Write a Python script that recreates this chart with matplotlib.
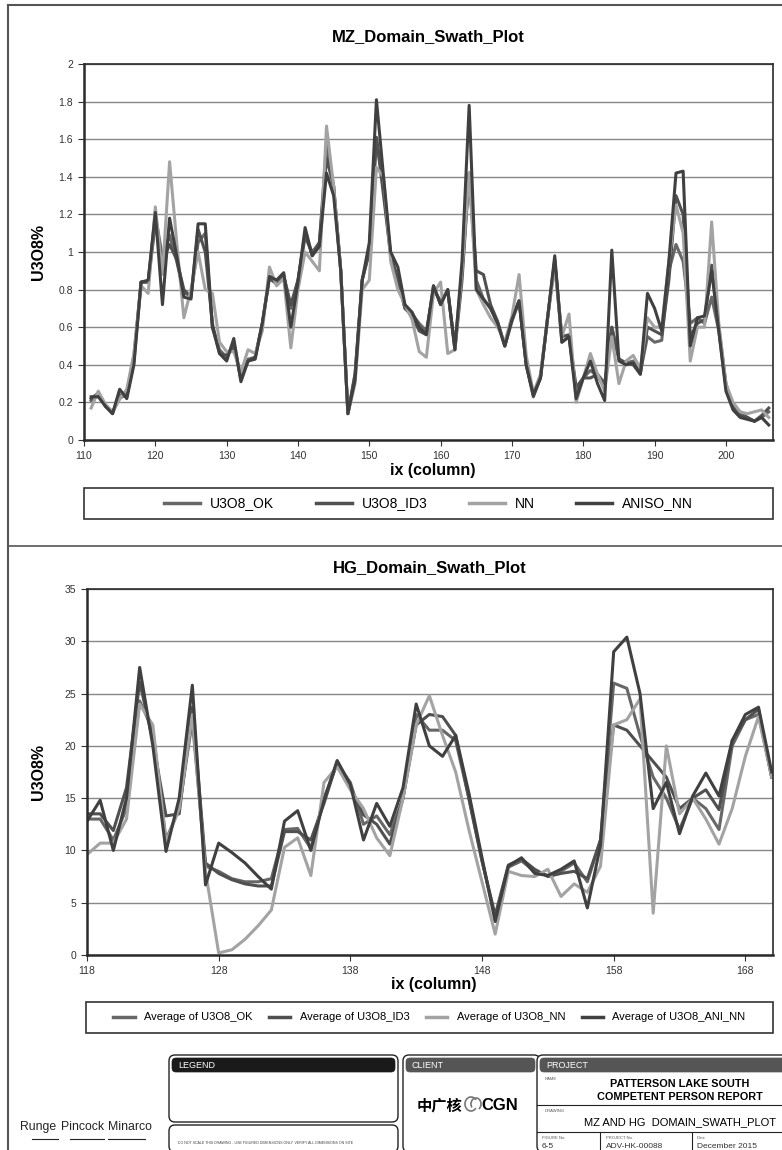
import numpy as np
import matplotlib
matplotlib.use('Agg')
import matplotlib.pyplot as plt
from matplotlib.patches import Rectangle, FancyBboxPatch, Arc

# MZ domain swath data

mz_ix = list(range(111, 207))

mz_ok = [0.21, 0.24, 0.18, 0.15, 0.22, 0.25, 0.45, 0.84, 0.84, 1.20,
         0.97, 1.09, 0.95, 0.78, 0.77, 1.05, 1.10, 0.60, 0.48, 0.44,
         0.52, 0.32, 0.43, 0.44, 0.62, 0.87, 0.85, 0.88, 0.70, 0.85,
         1.08, 1.00, 1.05, 1.57, 1.35, 0.90, 0.14, 0.35, 0.85, 1.00,
         1.60, 1.35, 0.98, 0.85, 0.70, 0.67, 0.62, 0.58, 0.80, 0.74,
         0.79, 0.50, 0.90, 1.42, 0.85, 0.75, 0.70, 0.62, 0.50, 0.63,
         0.74, 0.40, 0.24, 0.33, 0.65, 0.95, 0.52, 0.55, 0.26, 0.33,
         0.37, 0.34, 0.28, 0.60, 0.43, 0.41, 0.42, 0.36, 0.55, 0.52,
         0.53, 0.90, 1.04, 0.95, 0.62, 0.65, 0.62, 0.76, 0.58, 0.28,
         0.18, 0.15, 0.12, 0.10, 0.12, 0.15]

mz_id3 = [0.22, 0.25, 0.18, 0.14, 0.24, 0.23, 0.42, 0.84, 0.84, 1.15,
          0.95, 1.04, 0.96, 0.80, 0.76, 1.12, 1.00, 0.62, 0.46, 0.45,
          0.50, 0.33, 0.42, 0.44, 0.62, 0.86, 0.83, 0.87, 0.72, 0.85,
          1.10, 0.98, 1.05, 1.50, 1.35, 0.90, 0.14, 0.35, 0.85, 1.00,
          1.61, 1.30, 0.98, 0.86, 0.70, 0.66, 0.58, 0.56, 0.82, 0.72,
          0.80, 0.48, 0.85, 1.42, 0.90, 0.88, 0.72, 0.63, 0.50, 0.65,
          0.74, 0.40, 0.23, 0.33, 0.65, 0.96, 0.55, 0.56, 0.28, 0.33,
          0.33, 0.35, 0.30, 0.60, 0.43, 0.41, 0.40, 0.35, 0.60, 0.58,
          0.56, 0.85, 1.30, 1.20, 0.55, 0.62, 0.64, 0.93, 0.60, 0.30,
          0.17, 0.13, 0.12, 0.10, 0.13, 0.17]

mz_nn = [0.17, 0.26, 0.19, 0.15, 0.22, 0.27, 0.46, 0.82, 0.78, 1.24,
         0.88, 1.48, 1.05, 0.65, 0.80, 1.00, 0.80, 0.78, 0.52, 0.47,
         0.47, 0.36, 0.48, 0.46, 0.58, 0.92, 0.82, 0.86, 0.49, 0.80,
         1.00, 0.95, 0.90, 1.67, 1.35, 0.90, 0.14, 0.30, 0.80, 0.85,
         1.45, 1.40, 0.95, 0.80, 0.72, 0.64, 0.47, 0.44, 0.78, 0.84,
         0.46, 0.48, 0.90, 1.42, 0.80, 0.72, 0.65, 0.60, 0.52, 0.66,
         0.88, 0.45, 0.25, 0.35, 0.65, 0.92, 0.55, 0.67, 0.20, 0.33,
         0.46, 0.35, 0.26, 0.55, 0.30, 0.42, 0.45, 0.38, 0.65, 0.60,
         0.60, 0.95, 1.25, 1.10, 0.42, 0.60, 0.60, 1.16, 0.62, 0.30,
         0.20, 0.15, 0.14, 0.15, 0.16, 0.12]

mz_aniso = [0.23, 0.23, 0.18, 0.14, 0.27, 0.22, 0.40, 0.84, 0.85, 1.21,
            0.72, 1.18, 0.98, 0.76, 0.75, 1.15, 1.15, 0.60, 0.46, 0.42,
            0.54, 0.31, 0.42, 0.43, 0.62, 0.87, 0.85, 0.89, 0.60, 0.84,
            1.13, 0.98, 1.03, 1.42, 1.30, 0.90, 0.14, 0.32, 0.85, 1.05,
            1.81, 1.40, 1.00, 0.92, 0.72, 0.68, 0.60, 0.56, 0.82, 0.72,
            0.80, 0.48, 0.95, 1.78, 0.80, 0.75, 0.70, 0.62, 0.50, 0.64,
            0.74, 0.40, 0.24, 0.33, 0.65, 0.98, 0.52, 0.55, 0.22, 0.33,
            0.42, 0.30, 0.21, 1.01, 0.42, 0.40, 0.41, 0.35, 0.78, 0.70,
            0.58, 0.95, 1.42, 1.43, 0.50, 0.65, 0.66, 0.90, 0.58, 0.26,
            0.16, 0.12, 0.11, 0.10, 0.12, 0.08]

# HG domain swath data

hg_ix = list(range(118, 171))

hg_ok = [13.0, 13.0, 11.0, 14.0, 24.3, 21.5, 11.0, 14.0, 22.4, 8.5,
         8.0, 7.3, 7.0, 7.0, 7.3, 12.0, 12.1, 10.2, 15.0, 18.3,
         16.5, 12.5, 13.3, 11.5, 15.0, 23.0, 21.5, 21.5, 20.5, 15.0,
         9.0, 3.6, 8.4, 9.0, 8.0, 7.6, 8.0, 8.8, 7.0, 11.0,
         26.0, 25.5, 21.0, 17.0, 15.0, 12.0, 15.0, 14.0, 12.0, 20.0,
         22.5, 23.0, 17.0]

hg_id3 = [13.5, 13.5, 11.9, 16.0, 26.1, 20.5, 13.3, 13.5, 23.7, 8.8,
          7.8, 7.2, 6.8, 6.6, 6.6, 11.8, 11.8, 11.0, 14.5, 18.5,
          16.0, 13.4, 12.5, 10.6, 15.0, 22.0, 23.0, 22.8, 21.0, 15.0,
          9.0, 3.8, 8.6, 9.2, 8.2, 7.5, 7.8, 8.0, 7.3, 11.0,
          22.0, 21.5, 20.0, 18.5, 17.0, 14.0, 15.0, 15.8, 13.9, 20.5,
          22.5, 23.5, 17.0]

hg_nn = [9.6, 10.7, 10.7, 13.0, 24.0, 22.0, 10.8, 14.0, 23.0, 8.0,
         0.2, 0.5, 1.5, 2.8, 4.3, 10.3, 11.2, 7.6, 16.5, 18.0,
         15.8, 14.0, 11.2, 9.5, 15.0, 22.0, 24.8, 21.0, 17.5, 12.0,
         7.0, 2.0, 8.0, 7.6, 7.5, 8.2, 5.6, 6.8, 6.0, 8.5,
         22.0, 22.5, 24.5, 4.0, 20.0, 13.5, 15.0, 13.0, 10.6, 14.0,
         19.0, 22.8, 17.0]

hg_aniso = [12.8, 14.8, 10.0, 15.0, 27.5, 20.0, 9.9, 15.0, 25.8, 6.7,
            10.7, 9.8, 8.8, 7.5, 6.3, 12.8, 13.8, 10.0, 14.8, 18.6,
            16.3, 11.0, 14.5, 12.3, 16.0, 24.0, 20.0, 19.0, 21.0, 15.5,
            9.3, 3.2, 8.5, 9.3, 7.8, 7.6, 8.2, 9.0, 4.5, 10.5,
            29.0, 30.4, 25.0, 14.0, 16.5, 11.6, 15.2, 17.4, 15.2, 20.5,
            23.0, 23.7, 17.5]

mz_labels = ['U3O8_OK', 'U3O8_ID3', 'NN', 'ANISO_NN']
hg_labels = ['Average of U3O8_OK', 'Average of U3O8_ID3',
             'Average of U3O8_NN', 'Average of U3O8_ANI_NN']
colors = ['#676767', '#505050', '#a3a3a3', '#404040']

W, H = 782, 1150
NARROW = ['Liberation Sans Narrow', 'Liberation Sans', 'DejaVu Sans']
PLAIN = ['Liberation Sans', 'DejaVu Sans']


def box(l, t, r, b):
    # pixel box -> figure fraction rect
    return [l / W, 1 - b / H, (r - l) / W, (b - t) / H]


fig = plt.figure(figsize=(W / 100, H / 100), dpi=100)

# background axes in pixel coordinates for frames and title block
bg = fig.add_axes([0, 0, 1, 1], zorder=0)
bg.set_xlim(0, W)
bg.set_ylim(H, 0)
bg.axis('off')

bg.plot([8, 8], [5, H], color='#555555', lw=1.5)
bg.plot([8, W], [5, 5], color='#555555', lw=1.5)
bg.plot([8, W], [546, 546], color='#555555', lw=1.2)


def swath(rect, x, series, labels, title, xlim, ylim, yticks, xticks,
          title_y, xlabel_y, leg_rect, leg_style):
    ax = fig.add_axes(box(*rect), zorder=2)
    for s, lab, c in zip(series, labels, colors):
        ax.plot(x, s, color=c, lw=2.2, label=lab, solid_joinstyle='round')
    ax.set_xlim(*xlim)
    ax.set_ylim(*ylim)
    ax.set_yticks(yticks)
    ax.set_xticks(xticks)
    ax.yaxis.set_major_formatter(matplotlib.ticker.FuncFormatter(lambda v, p: '{:g}'.format(round(v, 2))))
    ax.grid(axis='y', color='#888888', lw=1.0)
    ax.set_axisbelow(True)
    ax.tick_params(labelsize=7.5, colors='#333333', length=4, width=0.8, pad=4)
    for lab in ax.get_xticklabels() + ax.get_yticklabels():
        lab.set_family(PLAIN)
    for sp in ax.spines.values():
        sp.set_color('#2a2a2a')
        sp.set_linewidth(1.2)
    ax.spines['left'].set_linewidth(1.8)
    ax.spines['bottom'].set_linewidth(1.8)

    fig.text((rect[0] + rect[2]) / 2 / W, 1 - title_y / H, title, ha='center', va='center',
             fontsize=12, fontweight='bold', family=NARROW)
    fig.text((rect[0] + rect[2]) / 2 / W + 0.005, 1 - xlabel_y / H, 'ix (column)', ha='center',
             va='center', fontsize=11.5, fontweight='bold', family=NARROW)
    fig.text(38 / W, 1 - (rect[1] + rect[3]) / 2 / H, 'U3O8%', ha='center', va='center',
             rotation=90, fontsize=11.5, fontweight='bold', family=NARROW)

    l, t, r, b = leg_rect
    bg.add_patch(Rectangle((l, t), r - l, b - t, fill=False, ec='#333333', lw=1.2))
    size, hlen, tpad, cspace = leg_style
    leg = ax.legend(loc='center', bbox_to_anchor=((l + r) / 2 / W, 1 - (t + b) / 2 / H),
                    bbox_transform=fig.transFigure, ncol=4, frameon=False,
                    prop={'family': PLAIN, 'size': size}, handlelength=hlen,
                    columnspacing=cspace, handletextpad=tpad)
    for h in leg.get_lines():
        h.set_linewidth(2.5)
    return ax


swath((84, 64, 773, 440), mz_ix, [mz_ok, mz_id3, mz_nn, mz_aniso], mz_labels,
      'MZ_Domain_Swath_Plot', (110, 206.6), (0, 2), np.arange(0, 2.01, 0.2),
      range(110, 201, 10), 37, 471, (84, 488, 773, 519), (10, 2.6, 0.7, 3.0))

swath((87, 589, 773, 955), hg_ix, [hg_ok, hg_id3, hg_nn, hg_aniso], hg_labels,
      'HG_Domain_Swath_Plot', (118, 170.1), (0, 35), range(0, 36, 5),
      range(118, 169, 10), 568, 984, (86, 1002, 773, 1033), (8.0, 1.9, 0.85, 1.5))

# title block
def rbox(l, t, r, b, rad=6, lw=1.0):
    bg.add_patch(FancyBboxPatch((l, t), r - l, b - t, boxstyle='round,pad=0,rounding_size=%d' % rad,
                                fc='white', ec='#222222', lw=lw))


def header(l, t, r, b, text, fc):
    bg.add_patch(FancyBboxPatch((l, t), r - l, b - t, boxstyle='round,pad=0,rounding_size=4',
                                fc=fc, ec=fc, lw=0.5))
    bg.text(l + 6, (t + b) / 2, text, color='white', fontsize=6.5, va='center', family=PLAIN)


rbox(169, 1055, 398, 1122)
header(172, 1058, 395, 1072, 'LEGEND', '#1a1a1a')
rbox(169, 1125, 398, 1152)
bg.text(178, 1143, 'DO NOT SCALE THIS DRAWING - USE FIGURED DIMENSIONS ONLY. VERIFY ALL DIMENSIONS ON SITE',
        fontsize=2.6, color='#444444', va='center', family=PLAIN)

bg.text(20, 1127, 'Runge', fontsize=8.8, va='center', family=NARROW, color='#222222')
bg.text(61, 1127, 'Pincock', fontsize=8.8, va='center', family=NARROW, color='#222222')
bg.text(108, 1127, 'Minarco', fontsize=8.8, va='center', family=NARROW, color='#222222')
for a, b2 in [(32, 58), (70, 104), (108, 145)]:
    bg.plot([a, b2], [1139, 1139], color='#222222', lw=0.8)

rbox(403, 1055, 540, 1152)
header(406, 1058, 535, 1072, 'CLIENT', '#555555')
bg.text(440, 1105, '中广核', fontsize=11, fontweight='bold', va='center', ha='center',
        family=['Noto Sans CJK SC', 'DejaVu Sans'])
bg.text(500, 1105, 'CGN', fontsize=12, fontweight='bold', va='center', ha='center', family=PLAIN)
# company swirl mark drawn as a shape
bg.add_patch(Arc((471, 1104), 12, 14, theta1=40, theta2=320, color='#777777', lw=1.2))
bg.add_patch(Arc((476, 1104), 10, 12, theta1=140, theta2=420, color='#777777', lw=1.2))

rbox(537, 1055, 790, 1152)
header(540, 1058, 790, 1072, 'PROJECT', '#555555')
bg.plot([537, W], [1105, 1105], color='#222222', lw=0.8)
bg.plot([537, W], [1132, 1132], color='#222222', lw=0.8)
bg.plot([600, 600], [1132, 1152], color='#222222', lw=0.8)
bg.plot([692, 692], [1132, 1152], color='#222222', lw=0.8)
bg.text(545, 1080, 'NAME', fontsize=3, color='#555555', family=PLAIN)
bg.text(680, 1084, 'PATTERSON LAKE SOUTH', fontsize=7.8, fontweight='bold', ha='center',
        va='center', family=NARROW)
bg.text(680, 1097, 'COMPETENT PERSON REPORT', fontsize=7.8, fontweight='bold', ha='center',
        va='center', family=NARROW)
bg.text(545, 1112, 'DRAWING', fontsize=3, color='#555555', family=PLAIN)
bg.text(680, 1122, 'MZ AND HG  DOMAIN_SWATH_PLOT', fontsize=8, ha='center', va='center',
        family=NARROW)
bg.text(542, 1139, 'FIGURE No.', fontsize=3, color='#555555', family=PLAIN)
bg.text(542, 1146, '6-5', fontsize=6, va='center', family=PLAIN, color='#333333')
bg.text(606, 1139, 'PROJECT No.', fontsize=3, color='#555555', family=PLAIN)
bg.text(606, 1146, 'ADV-HK-00088', fontsize=6, va='center', family=PLAIN, color='#333333')
bg.text(697, 1139, 'Date', fontsize=3, color='#555555', family=PLAIN)
bg.text(697, 1146, 'December 2015', fontsize=6, va='center', family=PLAIN, color='#333333')

fig.savefig('out.png', dpi=100)
